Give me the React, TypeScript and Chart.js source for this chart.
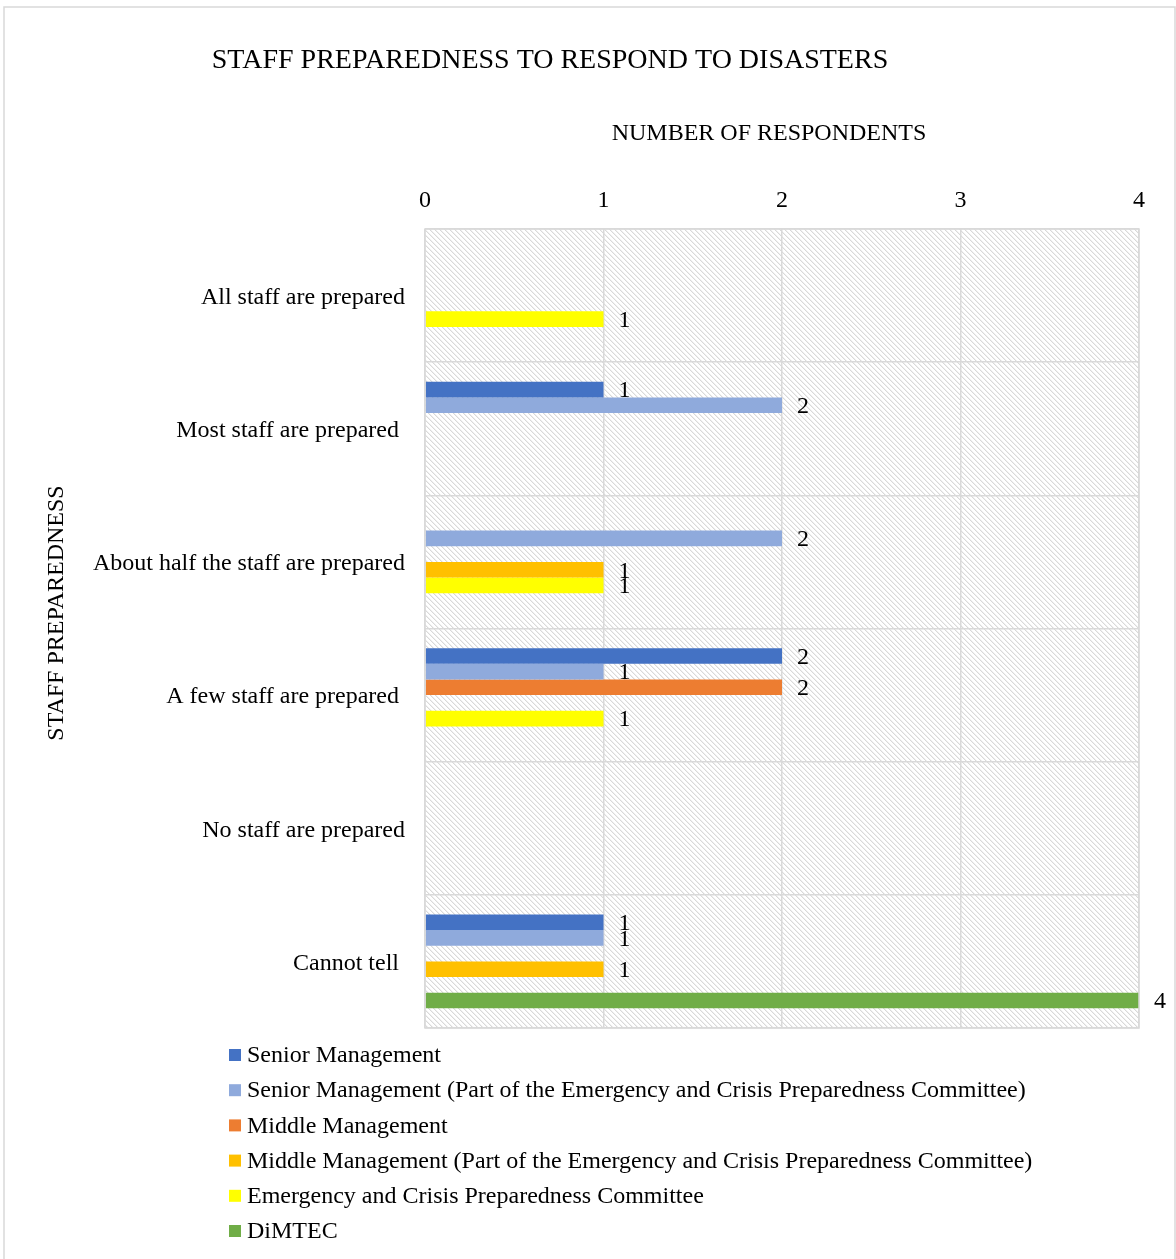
import React, { useEffect, useRef } from "react";
import { Chart, registerables } from "chart.js";

Chart.register(...registerables);

const categories = [
  "All staff are prepared",
  "Most staff are prepared ",
  "About half the staff are prepared",
  "A few staff are prepared ",
  "No staff are prepared",
  "Cannot tell ",
];

const seriesNames = [
  "Senior Management",
  "Senior Management (Part of the Emergency and Crisis Preparedness Committee)",
  "Middle Management",
  "Middle Management (Part of the Emergency and Crisis Preparedness Committee)",
  "Emergency and Crisis Preparedness Committee",
  "DiMTEC",
];

const seniorManagement = [null, 1, null, 2, null, 1];
const seniorManagementCommittee = [null, 2, 2, 1, null, 1];
const middleManagement = [null, null, null, 2, null, null];
const middleManagementCommittee = [null, null, 1, null, null, 1];
const emergencyCommittee = [1, null, 1, 1, null, null];
const dimtec = [null, null, null, null, null, 4];

const xTicks = [0, 1, 2, 3, 4];

const seriesColors = ["#4472C4", "#8FAADC", "#ED7D31", "#FFC000", "#FFFF00", "#70AD47"];

const chartTitle = "STAFF PREPAREDNESS TO RESPOND TO DISASTERS";
const xTitle = "NUMBER OF RESPONDENTS";
const yTitle = "STAFF PREPAREDNESS";

const FONT = "'Liberation Serif', 'Times New Roman', serif";

function makePattern(ctx: CanvasRenderingContext2D) {
  const size = 5;
  const c = document.createElement("canvas");
  c.width = size;
  c.height = size;
  const g = c.getContext("2d")!;
  g.fillStyle = "#ffffff";
  g.fillRect(0, 0, size, size);
  for (let i = 0; i < size; i++) {
    g.fillStyle = "#d9d9d9";
    g.fillRect(i, i, 1, 1);
    g.fillStyle = "#f0f0f0";
    g.fillRect((i + 1) % size, i, 1, 1);
  }
  return ctx.createPattern(c, "repeat");
}

export default function App() {
  const canvasRef = useRef<HTMLCanvasElement | null>(null);

  useEffect(() => {
    document.body.style.margin = "0";
    const canvas = canvasRef.current!;
    const allData = [
      seniorManagement,
      seniorManagementCommittee,
      middleManagement,
      middleManagementCommittee,
      emergencyCommittee,
      dimtec,
    ];

    const decorPlugin = {
      id: "decor",
      beforeDraw(chart: any) {
        const { ctx, chartArea } = chart;
        ctx.save();
        ctx.fillStyle = "#ffffff";
        ctx.fillRect(0, 0, chart.width, chart.height);
        const pat = makePattern(ctx);
        if (pat) {
          ctx.fillStyle = pat;
          ctx.fillRect(chartArea.left, chartArea.top, chartArea.right - chartArea.left, chartArea.bottom - chartArea.top);
        }
        ctx.strokeStyle = "#d9d9d9";
        ctx.lineWidth = 1.5;
        ctx.strokeRect(4, 7, 1171, 1262);
        ctx.restore();
      },
      afterDatasetsDraw(chart: any) {
        const { ctx } = chart;
        ctx.save();
        ctx.font = `24px ${FONT}`;
        ctx.fillStyle = "#000";
        ctx.textAlign = "left";
        ctx.textBaseline = "middle";
        chart.data.datasets.forEach((ds: any, di: number) => {
          const meta = chart.getDatasetMeta(di);
          meta.data.forEach((bar: any, i: number) => {
            const v = ds.data[i];
            if (v === null || v === undefined) return;
            ctx.fillText(String(v), bar.x + 15, bar.y + 1.5);
          });
        });
        ctx.restore();
      },
      afterDraw(chart: any) {
        const { ctx, chartArea } = chart;
        ctx.save();
        ctx.strokeStyle = "#d9d9d9";
        ctx.lineWidth = 1.5;
        ctx.strokeRect(chartArea.left, chartArea.top, chartArea.right - chartArea.left, chartArea.bottom - chartArea.top);
        ctx.fillStyle = "#000";
        ctx.textBaseline = "middle";
        ctx.textAlign = "center";
        ctx.font = `28px ${FONT}`;
        ctx.fillText(chartTitle, 550, 61);
        ctx.font = `24px ${FONT}`;
        ctx.fillText(xTitle, 769, 134);
        ctx.save();
        ctx.translate(57, 613);
        ctx.rotate(-Math.PI / 2);
        ctx.fillText(yTitle, 0, 0);
        ctx.restore();
        // legend
        ctx.textAlign = "left";
        chart.data.datasets.forEach((ds: any, i: number) => {
          const cy = 1055 + i * 35.2;
          ctx.fillStyle = ds.backgroundColor;
          ctx.fillRect(229, cy - 6, 12, 12);
          ctx.fillStyle = "#000";
          ctx.fillText(ds.label, 247, cy + 1);
        });
        ctx.restore();
      },
    };

    const chart = new Chart(canvas, {
      type: "bar",
      data: {
        labels: categories,
        datasets: seriesNames.map((name, i) => ({
          label: name,
          data: allData[i] as any,
          backgroundColor: seriesColors[i],
          borderWidth: 0,
          barPercentage: 1,
          categoryPercentage: 0.705,
        })),
      },
      options: {
        indexAxis: "y",
        animation: false,
        responsive: false,
        maintainAspectRatio: false,
        layout: { padding: { top: 0, left: 0, right: 37, bottom: 231 } },
        plugins: {
          legend: { display: false },
          title: { display: false },
          tooltip: { enabled: false },
        },
        scales: {
          x: {
            position: "top",
            min: 0,
            max: 4,
            afterBuildTicks(scale: any) {
              scale.ticks = xTicks.map((v) => ({ value: v }));
            },
            afterFit(scale: any) {
              scale.height = 229;
            },
            ticks: {
              font: { family: FONT, size: 24 },
              color: "#000",
              padding: 14,
            },
            grid: { color: "#d9d9d9", lineWidth: 1.5, drawTicks: false },
            border: { display: false },
          },
          y: {
            afterFit(scale: any) {
              scale.width = 425;
            },
            ticks: {
              font: { family: FONT, size: 24 },
              color: "#000",
              padding: 20,
              labelOffset: 2,
            },
            grid: { color: "#d9d9d9", lineWidth: 1.5, drawTicks: false, offset: true },
            border: { display: false },
          },
        },
      },
      plugins: [decorPlugin],
    });
    return () => chart.destroy();
  }, []);

  return (
    <div style={{ width: 1176, height: 1259, position: "relative" }}>
      <canvas ref={canvasRef} width={1176} height={1259} style={{ display: "block" }} />
    </div>
  );
}
